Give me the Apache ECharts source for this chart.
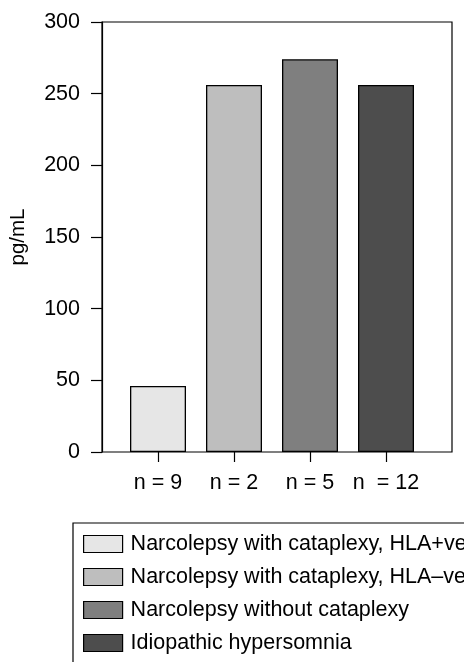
<!DOCTYPE html>
<html>
<head>
<meta charset="utf-8">
<script src="https://cdn.jsdelivr.net/npm/echarts@6/dist/echarts.min.js"></script>
<style>
html,body{margin:0;padding:0;background:#fff;}
#chart{width:464px;height:662px;}
</style>
</head>
<body>
<div id="chart"></div>
<script>
const groups = ['n = 9', 'n = 2', 'n = 5', 'n  = 12'];
const seriesNames = [
  'Narcolepsy with cataplexy, HLA+ve',
  'Narcolepsy with cataplexy, HLA\u2013ve',
  'Narcolepsy without cataplexy',
  'Idiopathic hypersomnia'
];
const values = [46, 256, 274, 256];
const colors = ['#e6e6e6', '#bebebe', '#7f7f7f', '#4d4d4d'];

const font = 'Liberation Sans, Arial, Helvetica, sans-serif';
const chart = echarts.init(document.getElementById('chart'));
chart.setOption({
  animation: false,
  textStyle: {fontFamily: font},
  grid: [
    {left: 101, top: 22, width: 351, height: 430, show: true, borderColor: '#000', borderWidth: 1.2, backgroundColor: 'transparent'},
    {left: 120, top: 22, width: 304, height: 430}
  ],
  xAxis: [
    {gridIndex: 0, type: 'value', min: 0, max: 1, show: false},
    {gridIndex: 1, type: 'category', data: groups,
     axisLine: {show: false},
     axisTick: {show: true, alignWithLabel: true, length: 10, interval: 0, lineStyle: {color: '#000', width: 1.2}},
     axisLabel: {fontSize: 21.5, color: '#000', margin: 20, fontFamily: font, interval: 0}}
  ],
  yAxis: [
    {gridIndex: 0, type: 'value', min: 0, max: 300, interval: 50,
     name: 'pg/mL', nameLocation: 'middle', nameRotate: 90, nameGap: 73,
     nameTextStyle: {fontSize: 20.5, color: '#000', fontFamily: font},
     axisLine: {show: true, lineStyle: {color: '#000', width: 1.2}},
     axisTick: {show: true, length: 11, lineStyle: {color: '#000', width: 1.2}},
     axisLabel: {fontSize: 21.5, color: '#000', margin: 22, fontFamily: font},
     splitLine: {show: false}},
    {gridIndex: 1, type: 'value', min: 0, max: 300, show: false}
  ],
  legend: {
    orient: 'vertical', left: 73, top: 523, height: 130,
    icon: 'rect',
    itemWidth: 39, itemHeight: 17, itemGap: 11,
    padding: [10, 10, 40, 10],
    borderColor: '#000', borderWidth: 1.2,
    textStyle: {fontSize: 21.5, color: '#000', fontFamily: font, lineHeight: 21, padding: [0, 0, 0, 3]},
    itemStyle: {borderColor: '#000', borderWidth: 1.2},
    data: seriesNames,
    selectedMode: false
  },
  series: seriesNames.map((name, i) => ({
    name: name,
    type: 'bar',
    stack: 'all',
    xAxisIndex: 1,
    yAxisIndex: 1,
    barWidth: 56,
    itemStyle: {color: colors[i], borderColor: '#000', borderWidth: 1.3},
    data: values.map((v, j) => (j === i ? v : '-'))
  }))
});
</script>
</body>
</html>
